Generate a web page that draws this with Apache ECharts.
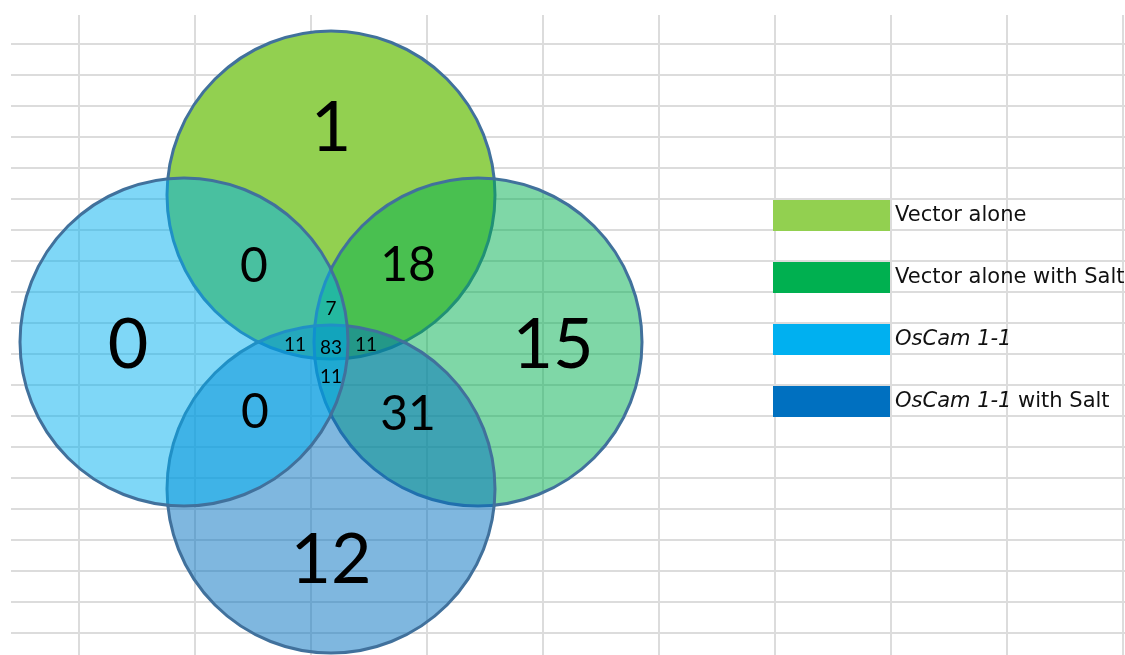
<!DOCTYPE html>
<html>
<head>
<meta charset="utf-8">
<script src="https://cdn.jsdelivr.net/npm/echarts@6/dist/echarts.min.js"></script>
<style>html,body{margin:0;padding:0;background:#fff}#c{width:1125px;height:655px}</style>
</head>
<body>
<div id="c"></div>
<script>
// ---- data ----
const setNames = ['Vector alone', 'Vector alone with Salt', 'OsCam 1-1', 'OsCam 1-1 with Salt'];
const setKeys = ['A', 'B', 'C', 'D'];
const regionKeys = ['A', 'B', 'C', 'D', 'AB', 'AC', 'BD', 'CD', 'ABC', 'ACD', 'ABD', 'BCD', 'ABCD'];
const regionCounts = [1, 15, 0, 12, 18, 0, 31, 0, 7, 11, 11, 11, 83];

// ---- layout & style ----
const setColors = ['#92D050', '#00B050', '#00B0F0', '#0070C0'];
const setOpacity = [1, 0.5, 0.5, 0.5];
const drawOrder = [0, 1, 3, 2];
const circleOffset = 147, circleRadius = 164;
const setDirs = { A: [0, -1], B: [1, 0], C: [-1, 0], D: [0, 1] };
const regionAnchors = {
  A: [0, -214], B: [222, 3], C: [-203, 3], D: [0, 218],
  AB: [77, -76], AC: [-77, -75], BD: [77, 73], CD: [-76, 71],
  ABC: [0, -33], ACD: [-36, 3], ABD: [35, 3], BCD: [0, 35], ABCD: [0, 6]
};
const labelSizes = { 1: 70, 2: 48, 3: 19, 4: 19 };
const gridColor = '#dcdcdc';

const chart = echarts.init(document.getElementById('c'));

const hiddenAxis = (extra) => Object.assign({
  type: 'value', axisLine: { show: false }, axisTick: { show: false },
  axisLabel: { show: false }, splitLine: { show: false }
}, extra);

const circleSeries = drawOrder.map(i => ({
  type: 'custom', name: setNames[i], xAxisIndex: 2, yAxisIndex: 2, z: 3,
  itemStyle: { color: setColors[i] },
  data: [[setDirs[setKeys[i]][0] * circleOffset, setDirs[setKeys[i]][1] * circleOffset, circleRadius]],
  renderItem: (params, api) => {
    const c = api.coord([api.value(0), api.value(1)]);
    const r = api.size([api.value(2), 0])[0];
    return {
      type: 'circle', shape: { cx: c[0], cy: c[1], r: r },
      style: { fill: setColors[i], opacity: 1, fillOpacity: setOpacity[i], stroke: '#41719C', lineWidth: 3 }
    };
  }
}));

const labelSeries = {
  type: 'scatter', xAxisIndex: 2, yAxisIndex: 2, z: 5, symbolSize: 0, silent: true,
  itemStyle: { opacity: 1 },
  data: regionKeys.map((k, i) => ({
    value: [regionAnchors[k][0], regionAnchors[k][1], regionCounts[i]],
    label: { fontSize: labelSizes[k.length] }
  })),
  label: {
    show: true, position: 'inside', color: '#000', fontFamily: 'Lato', textBorderWidth: 0,
    formatter: p => String(p.value[2])
  }
};

chart.setOption({
  animation: false,
  backgroundColor: '#fff',
  grid: [
    { left: 79, right: 0, top: 15, bottom: 0 },
    { left: 11, right: 0, top: 44, bottom: 0 },
    { left: 0, right: 0, top: 0, bottom: 0 }
  ],
  xAxis: [
    hiddenAxis({ gridIndex: 0, min: 0, max: 1046, interval: 116,
      splitLine: { show: true, showMinLine: true, showMaxLine: false, lineStyle: { color: gridColor, width: 2 } } }),
    hiddenAxis({ gridIndex: 1, min: 0, max: 1 }),
    hiddenAxis({ gridIndex: 2, min: -331, max: 794 })
  ],
  yAxis: [
    hiddenAxis({ gridIndex: 0, min: 0, max: 1 }),
    hiddenAxis({ gridIndex: 1, min: 0, max: 611, interval: 31, inverse: true,
      splitLine: { show: true, showMinLine: true, showMaxLine: false, lineStyle: { color: gridColor, width: 2 } } }),
    hiddenAxis({ gridIndex: 2, min: -342, max: 313, inverse: true })
  ],
  legend: {
    orient: 'vertical', left: 773, top: 200, padding: 0,
    itemWidth: 117, itemHeight: 31, itemGap: 31, icon: 'rect',
    selectedMode: false,
    itemStyle: { borderWidth: 0, opacity: 1 },
    data: setNames.map((n, i) => ({ name: n, itemStyle: { color: setColors[i], opacity: 1, borderWidth: 0 } })),
    formatter: name => name.startsWith('OsCam')
      ? '{i|OsCam 1-1}' + (name.length > 9 ? '{n|' + name.slice(9) + '}' : '')
      : '{n|' + name + '}',
    textStyle: {
      fontFamily: 'DejaVu Sans', fontSize: 21, color: '#111',
      rich: {
        n: { fontFamily: 'DejaVu Sans', fontSize: 21, color: '#111' },
        i: { fontFamily: 'DejaVu Sans', fontSize: 21, color: '#111', fontStyle: 'italic' }
      }
    }
  },
  series: circleSeries.concat([labelSeries])
});
</script>
</body>
</html>
